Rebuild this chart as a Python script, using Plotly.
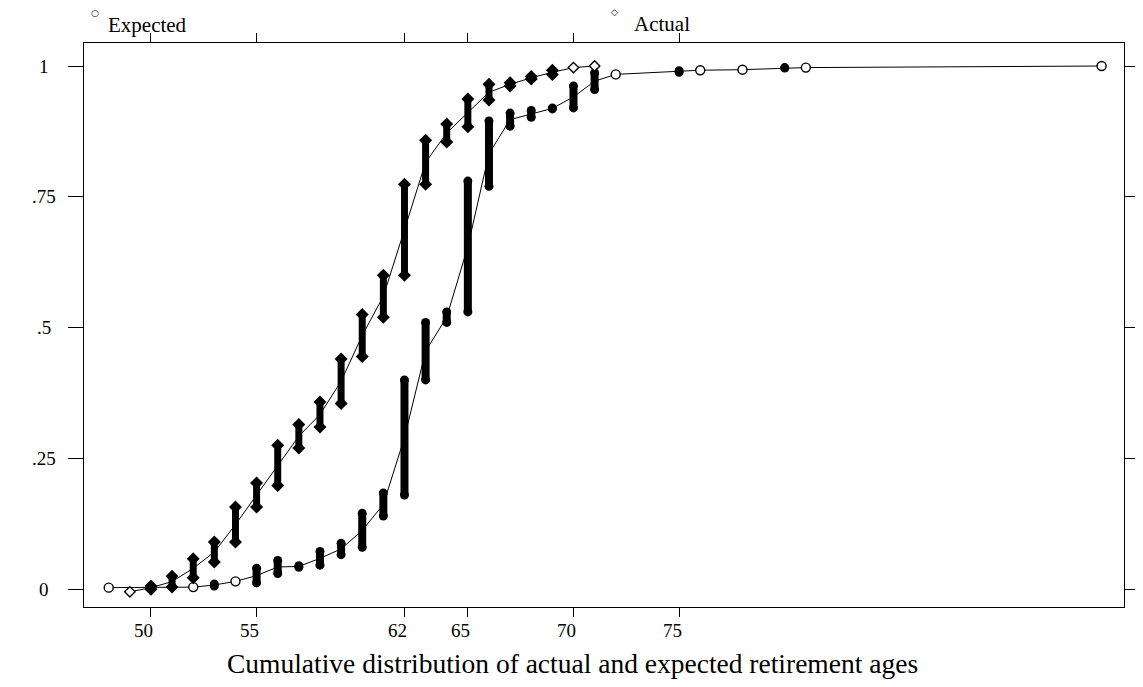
import plotly.graph_objects as go

# ---------------- data ----------------
ages_act = [49, 50, 51, 52, 53, 54, 55, 56, 57, 58, 59, 60, 61, 62, 63, 64, 65, 66, 67, 68, 69, 70, 71]
act_lo = [-0.005, 0.0, 0.004, 0.022, 0.052, 0.09, 0.157, 0.198, 0.27, 0.31, 0.355, 0.445, 0.52, 0.60,
          0.774, 0.855, 0.884, 0.935, 0.962, 0.975, 0.984, 0.997, 1.0]
act_hi = [-0.005, 0.006, 0.025, 0.058, 0.09, 0.157, 0.203, 0.275, 0.315, 0.358, 0.44, 0.525, 0.60, 0.774,
          0.858, 0.889, 0.937, 0.965, 0.968, 0.98, 0.992, 0.997, 1.0]

ages_exp = [48, 52, 53, 54, 55, 56, 57, 58, 59, 60, 61, 62, 63, 64, 65, 66, 67, 68, 69, 70, 71, 72,
            75, 76, 78, 80, 81, 95]
exp_lo = [0.003, 0.004, 0.006, 0.015, 0.012, 0.03, 0.042, 0.046, 0.066, 0.08, 0.14, 0.18, 0.40, 0.51,
          0.53, 0.77, 0.885, 0.902, 0.918, 0.92, 0.955, 0.984, 0.988, 0.992, 0.993, 0.996, 0.997, 1.0]
exp_hi = [0.003, 0.004, 0.01, 0.015, 0.04, 0.055, 0.045, 0.072, 0.088, 0.145, 0.184, 0.40, 0.51, 0.53,
          0.78, 0.895, 0.91, 0.915, 0.92, 0.962, 0.987, 0.984, 0.991, 0.992, 0.993, 0.997, 0.997, 1.0]

x_ticks = [50, 55, 62, 65, 70, 75]
x_tick_labels = ["50", "55", "62", "65", "70", "75"]
y_ticks = [0, 0.25, 0.5, 0.75, 1]
y_tick_labels = ["0", ".25", ".5", ".75", "1"]

series_names = ["Expected", "Actual"]
title_text = "Cumulative distribution of actual and expected retirement ages"

SERIF = "Liberation Serif, Times New Roman, serif"

fig = go.Figure()


def add_series(ages, lo, hi, symbol, open_size, fill_size, stack_w):
    # thin connecting line through the observations (passes through each stack)
    mids = [(l + h) / 2 for l, h in zip(lo, hi)]
    fig.add_trace(go.Scatter(x=ages, y=mids, mode="lines",
                             line=dict(color="black", width=1), hoverinfo="skip"))
    # thick stacks of overlapping markers
    sx, sy, ex, ey = [], [], [], []
    ox, oy = [], []
    for a, l, h in zip(ages, lo, hi):
        if h - l > 0.0005:
            sx += [a, a, None]
            sy += [l, h, None]
            ex += [a, a]
            ey += [l, h]
        else:
            ox.append(a)
            oy.append(l)
    fig.add_trace(go.Scatter(x=sx, y=sy, mode="lines",
                             line=dict(color="black", width=stack_w), hoverinfo="skip"))
    fig.add_trace(go.Scatter(x=ex, y=ey, mode="markers",
                             marker=dict(symbol=symbol, size=fill_size, color="black"),
                             hoverinfo="skip"))
    # single observations: hollow symbols
    fig.add_trace(go.Scatter(x=ox, y=oy, mode="markers",
                             marker=dict(symbol=symbol, size=open_size, color="white",
                                         line=dict(width=1.4, color="black")),
                             hoverinfo="skip"))


add_series(ages_exp, exp_lo, exp_hi, "circle", 9, 9, 8)
add_series(ages_act, act_lo, act_hi, "diamond", 8, 10, 7)

axis_common = dict(showline=True, linecolor="black", linewidth=1, mirror="ticks",
                   ticks="outside", tickcolor="black", tickwidth=1,
                   showgrid=False, zeroline=False)

fig.update_xaxes(range=[46.83, 96.06], tickvals=x_ticks, showticklabels=False,
                 ticklen=9, **axis_common)
fig.update_yaxes(range=[-0.034, 1.044], tickvals=y_ticks, showticklabels=False,
                 ticklen=15, **axis_common)

annotations = []
for v, t in zip(y_ticks, y_tick_labels):
    annotations.append(dict(x=-0.0388, y=v, xref="paper", yref="y", text=t, showarrow=False,
                            xanchor="center", yanchor="middle",
                            font=dict(family=SERIF, size=19, color="black")))
for v, t in zip(x_ticks, x_tick_labels):
    annotations.append(dict(x=v, y=-0.042, xref="x", yref="paper", text=t, showarrow=False,
                            xanchor="center", yanchor="middle", xshift=-7,
                            font=dict(family=SERIF, size=19, color="black")))

# legend
annotations += [
    dict(x=0.0104, y=1.054, xref="paper", yref="paper", text="○", showarrow=False,
         xanchor="center", yanchor="middle", font=dict(family="DejaVu Sans", size=9, color="black")),
    dict(x=0.0208, y=1.032, xref="paper", yref="paper", text=series_names[0], showarrow=False,
         xanchor="left", yanchor="middle", font=dict(family=SERIF, size=21, color="black")),
    dict(x=0.5104, y=1.055, xref="paper", yref="paper", text="◇", showarrow=False,
         xanchor="center", yanchor="middle", font=dict(family="DejaVu Sans", size=9, color="black")),
    dict(x=0.5265, y=1.033, xref="paper", yref="paper", text=series_names[1], showarrow=False,
         xanchor="left", yanchor="middle", font=dict(family=SERIF, size=21, color="black")),
    dict(x=0.4697, y=-0.0993, xref="paper", yref="paper", text=title_text, showarrow=False,
         xanchor="center", yanchor="middle", font=dict(family=SERIF, size=27.5, color="black")),
]

fig.update_layout(width=1143, height=687, margin=dict(l=76, r=11, t=35, b=88),
                  plot_bgcolor="white", paper_bgcolor="white", showlegend=False,
                  annotations=annotations)

fig.write_html("out.html")
